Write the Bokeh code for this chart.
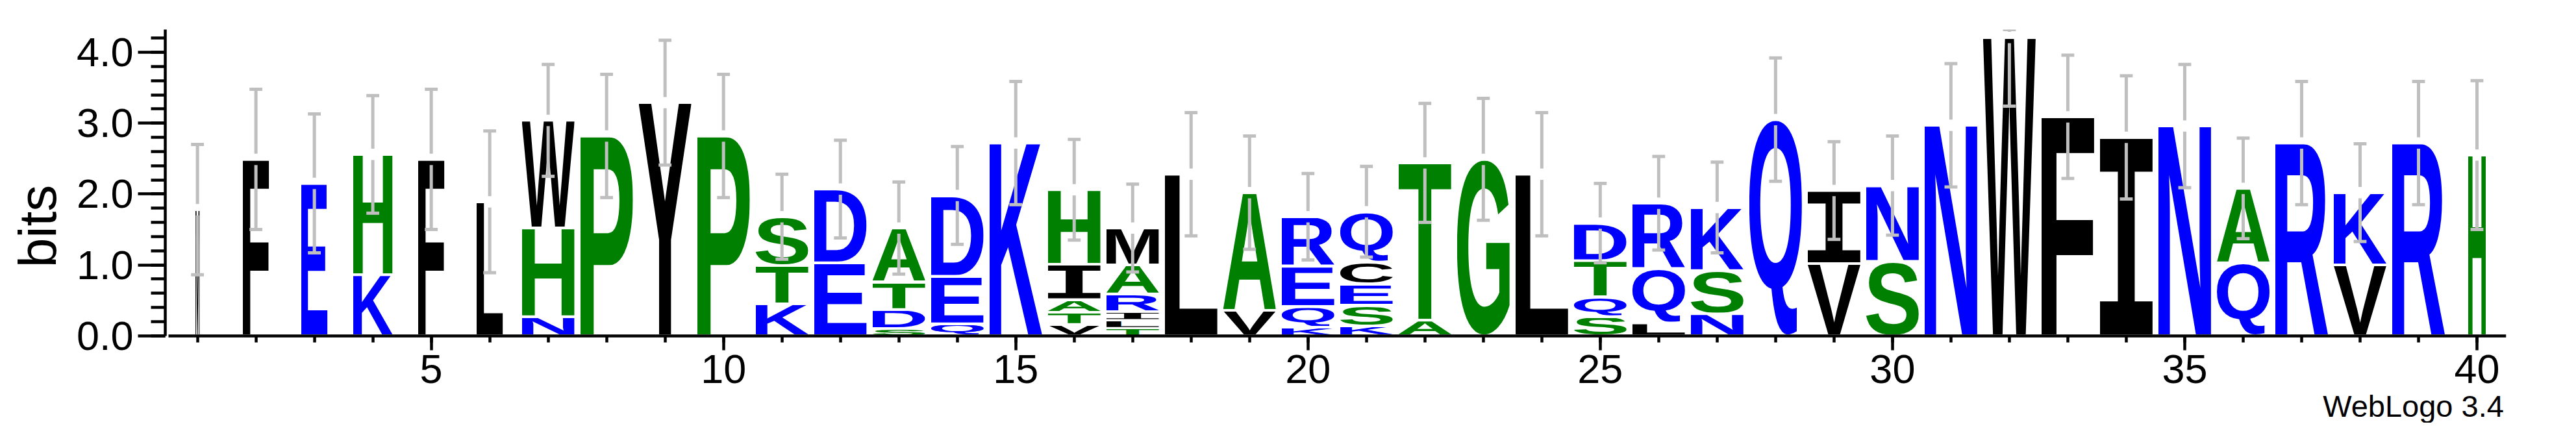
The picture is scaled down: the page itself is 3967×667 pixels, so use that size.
import base64
import glob
import os
import struct
import subprocess

from bokeh.plotting import figure
from bokeh.models import ColumnDataSource, FixedTicker, NumeralTickFormatter, Label, Range1d
from bokeh.embed import file_html
from bokeh.resources import INLINE

# ---------------- data ----------------
positions = list(range(1, 41))
# fraction of non-gap symbols in each column (scales the stack width)
width_frac = [1/12, 6/12, 6/12, 9/12, 6/12, 6/12] + [1.0] * 33 + [4/12]
# letters of each stack, bottom -> top
stack_letters = ["M", "F", "E", "KH", "F", "L", "NHW", "P", "Y", "P",
                 "KTS", "ED", "SDTA", "QED", "K", "VTAIH", "TLIRAM", "L", "VA", "KQER",
                 "KSECQ", "AT", "G", "L", "SQTD", "LQR", "NSK", "Q", "VI", "SN",
                 "N", "W", "F", "I", "N", "QA", "R", "VK", "R", "H"]
# heights (bits) of those letters, bottom -> top
stack_heights = [[1.78], [2.49], [2.15], [0.86, 1.70], [2.49], [1.89], [0.27, 1.25, 1.52], [2.82], [3.29], [2.82],
                 [0.45, 0.54, 0.69], [1.03, 1.04], [0.10, 0.27, 0.39, 0.76], [0.17, 0.67, 1.14], [2.72],
                 [0.16, 0.17, 0.18, 0.50, 1.05], [0.11, 0.11, 0.12, 0.25, 0.41, 0.52], [2.28], [0.36, 1.66],
                 [0.12, 0.29, 0.57, 0.70],
                 [0.14, 0.29, 0.30, 0.31, 0.71], [0.22, 2.22], [2.49], [2.28], [0.27, 0.28, 0.51, 0.53],
                 [0.18, 0.77, 0.92], [0.31, 0.61, 0.89], [3.05], [1.02, 1.03], [1.05, 1.07],
                 [2.97], [4.21], [3.09], [2.80], [2.96], [1.03, 1.05], [2.72], [1.00, 1.02], [2.72], [2.55]]
# half length of the error bar of each stack (bits)
error_half = [0.92, 0.99, 0.98, 0.83, 0.99, 1.00, 0.79, 0.87, 0.88, 0.87,
              0.60, 0.69, 0.65, 0.69, 0.87, 0.71, 0.62, 0.87, 0.80, 0.61,
              0.64, 0.84, 0.86, 0.87, 0.56, 0.66, 0.64, 0.87, 0.69, 0.70,
              0.87, 0.97, 0.87, 0.87, 0.87, 0.71, 0.87, 0.69, 0.87, 1.05]
x_major_ticks = [5, 10, 15, 20, 25, 30, 35, 40]
y_major_ticks = [0, 1, 2, 3, 4]
y_minor_ticks = [round(0.2 * k, 1) for k in range(22)]
y_max = 4.3219  # log2(20)
credit_text = "WebLogo 3.4"

# WebLogo "hydrophobicity" colour scheme
color_groups = {"RKDENQ": "#0000ff", "SGHTAP": "#008000", "YVMCLFIW": "#000000"}

assert len(stack_letters) == len(stack_heights) == len(error_half) == len(width_frac) == 40

# ---------------- glyph bounding boxes from the installed fonts ----------------
AFM_BOLD = {  # Helvetica-Bold style fallback boxes (1/1000 em)
    "A": (20, 0, 702, 718), "C": (44, -19, 684, 737), "D": (76, 0, 685, 718), "E": (76, 0, 621, 718),
    "F": (76, 0, 587, 718), "G": (44, -19, 713, 737), "H": (71, 0, 651, 718), "I": (64, 0, 214, 718),
    "K": (87, 0, 722, 718), "L": (76, 0, 583, 718), "M": (69, 0, 765, 718), "N": (69, 0, 654, 718),
    "P": (76, 0, 627, 718), "Q": (44, -52, 748, 737), "R": (76, 0, 677, 718), "S": (39, -19, 629, 737),
    "T": (14, 0, 598, 718), "V": (24, 0, 653, 718), "W": (16, 0, 929, 718), "Y": (15, 0, 653, 718),
}


def find_font(fname, pattern):
    roots = ["/usr/share/fonts", "/usr/local/share/fonts",
             os.path.expanduser("~/.fonts"), os.path.expanduser("~/.local/share/fonts")]
    for r in roots:
        hits = glob.glob(os.path.join(r, "**", fname), recursive=True)
        if hits:
            return hits[0]
    try:
        out = subprocess.run(["fc-match", "-f", "%{file}", pattern], capture_output=True, text=True).stdout
        if out and os.path.exists(out):
            return out
    except Exception:
        pass
    return None


def glyph_boxes(path, chars):
    data = open(path, "rb").read()
    ntab = struct.unpack(">H", data[4:6])[0]
    tab = {}
    for i in range(ntab):
        tag, _cs, off, _ln = struct.unpack(">4sIII", data[12 + 16 * i: 28 + 16 * i])
        tab[tag.decode("latin-1")] = off
    head = tab["head"]
    upem = struct.unpack(">H", data[head + 18: head + 20])[0]
    locfmt = struct.unpack(">h", data[head + 50: head + 52])[0]
    cmap = tab["cmap"]
    nsub = struct.unpack(">H", data[cmap + 2: cmap + 4])[0]
    sub = None
    for i in range(nsub):
        pid, eid, off = struct.unpack(">HHI", data[cmap + 4 + 8 * i: cmap + 12 + 8 * i])
        fmt = struct.unpack(">H", data[cmap + off: cmap + off + 2])[0]
        if fmt == 4:
            sub = cmap + off
            if pid == 3 and eid == 1:
                break
    segx2 = struct.unpack(">H", data[sub + 6: sub + 8])[0]
    n = segx2 // 2
    ends = struct.unpack(">%dH" % n, data[sub + 14: sub + 14 + segx2])
    starts = struct.unpack(">%dH" % n, data[sub + 16 + segx2: sub + 16 + 2 * segx2])
    deltas = struct.unpack(">%dh" % n, data[sub + 16 + 2 * segx2: sub + 16 + 3 * segx2])
    rbase = sub + 16 + 3 * segx2
    roffs = struct.unpack(">%dH" % n, data[rbase: rbase + segx2])

    def gid(ch):
        code = ord(ch)
        for i in range(n):
            if ends[i] >= code:
                if starts[i] > code:
                    return 0
                if roffs[i] == 0:
                    return (code + deltas[i]) & 0xFFFF
                addr = rbase + 2 * i + roffs[i] + 2 * (code - starts[i])
                g = struct.unpack(">H", data[addr: addr + 2])[0]
                return (g + deltas[i]) & 0xFFFF if g else 0
        return 0

    loca, glyf = tab["loca"], tab["glyf"]

    def loc(g):
        if locfmt == 0:
            return struct.unpack(">H", data[loca + 2 * g: loca + 2 * g + 2])[0] * 2
        return struct.unpack(">I", data[loca + 4 * g: loca + 4 * g + 4])[0]

    res = {}
    for ch in chars:
        go = glyf + loc(gid(ch))
        _nc, x0, y0, x1, y1 = struct.unpack(">hhhhh", data[go: go + 10])
        res[ch] = (x0 / upem, y0 / upem, x1 / upem, y1 / upem)
    return res


all_chars = sorted(set("".join(stack_letters)))
boxes = {c: tuple(v / 1000 for v in AFM_BOLD[c]) for c in all_chars}
fam = {c: "'Liberation Sans', Arial, sans-serif" for c in all_chars}
try:
    fp = find_font("LiberationSans-Bold.ttf", "Liberation Sans:bold")
    if fp:
        boxes.update(glyph_boxes(fp, all_chars))
except Exception:
    pass
try:
    fm = find_font("LiberationMono-Bold.ttf", "Liberation Mono:bold")
    if fm:
        boxes["I"] = glyph_boxes(fm, ["I"])["I"]
        fam["I"] = "'Liberation Mono', monospace"
except Exception:
    pass


def letter_color(ch):
    for grp, col in color_groups.items():
        if ch in grp:
            return col
    return "#000000"


def glyph_url(ch, color):
    x0, y0, x1, y1 = boxes[ch]
    s = 1000.0
    vb = "%.2f %.2f %.2f %.2f" % (x0 * s, -y1 * s, (x1 - x0) * s, (y1 - y0) * s)
    svg = ('<svg xmlns="http://www.w3.org/2000/svg" width="400" height="800" viewBox="%s" '
           'preserveAspectRatio="none"><text x="0" y="0" font-family="%s" font-weight="bold" '
           'font-size="%d" fill="%s">%s</text></svg>') % (vb, fam[ch], int(s), color, ch)
    return "data:image/svg+xml;base64," + base64.b64encode(svg.encode("utf-8")).decode("ascii")


# ---------------- build sources ----------------
full_w = 0.9
lx, ly, lw, lh, lurl = [], [], [], [], []
tops = []
for pos, letters, heights, wf in zip(positions, stack_letters, stack_heights, width_frac):
    base = 0.0
    w = full_w * wf
    for ch, h in zip(letters, heights):
        pad = min(0.018, 0.12 * h)
        lx.append(pos - w / 2)
        ly.append(base + pad)
        lw.append(w)
        lh.append(h - 2 * pad)
        lurl.append(glyph_url(ch, letter_color(ch)))
        base += h
    tops.append(base)

letters_src = ColumnDataSource(dict(url=lurl, x=lx, y=ly, w=lw, h=lh))

gap = 0.08
cap_half = 0.11
bx, by0, by1 = [], [], []
cx0, cx1, cy = [], [], []
for pos, top, err in zip(positions, tops, error_half):
    hi = min(top + err, y_max)
    lo = max(top - err, 0.0)
    if hi > top + gap:
        bx.append(pos); by0.append(top + gap); by1.append(hi)
    if lo < top - gap:
        bx.append(pos); by0.append(lo); by1.append(top - gap)
    for yy in (hi, lo):
        cx0.append(pos - cap_half); cx1.append(pos + cap_half); cy.append(yy)

bar_src = ColumnDataSource(dict(x=bx, y0=by0, y1=by1))
cap_src = ColumnDataSource(dict(x0=cx0, x1=cx1, y=cy))

# ---------------- figure ----------------
# the frame runs down to the page bottom; the x axis is pinned at y = 0
p = figure(width=3951, height=651, x_range=Range1d(0.449, 40.5), y_range=Range1d(-1.2308, y_max),
           output_backend="svg", toolbar_location=None,
           min_border_left=254, min_border_right=92, min_border_top=45, min_border_bottom=0)
p.outline_line_color = None
p.grid.visible = False
p.background_fill_color = "white"
p.border_fill_color = "white"

p.image_url(url="url", x="x", y="y", w="w", h="h", anchor="bottom_left", source=letters_src)

err_col = "#bfbfbf"
p.segment(x0="x", y0="y0", x1="x", y1="y1", source=bar_src, line_color=err_col, line_width=5, line_cap="butt")
p.segment(x0="x0", y0="y", x1="x1", y1="y", source=cap_src, line_color=err_col, line_width=5, line_cap="butt")

font = "Liberation Sans"
xa = p.xaxis[0]
xa.fixed_location = 0
xa.ticker = FixedTicker(ticks=x_major_ticks, minor_ticks=positions)
xa.bounds = (0.5, 40.5)
xa.axis_line_width = 4.5
xa.major_tick_line_width = 4.5
xa.minor_tick_line_width = 4.5
xa.major_tick_in = 0
xa.major_tick_out = 22
xa.minor_tick_in = 0
xa.minor_tick_out = 10
xa.major_label_text_font = font
xa.major_label_text_font_size = "63px"
xa.major_label_text_color = "black"
xa.major_label_standoff = 8

ya = p.yaxis[0]
ya.ticker = FixedTicker(ticks=y_major_ticks, minor_ticks=y_minor_ticks)
ya.formatter = NumeralTickFormatter(format="0.0")
ya.bounds = (0, y_max)
ya.axis_line_width = 4.5
ya.major_tick_line_width = 4.5
ya.minor_tick_line_width = 4.5
ya.major_tick_in = 0
ya.major_tick_out = 42
ya.minor_tick_in = 0
ya.minor_tick_out = 22
ya.major_label_text_font = font
ya.major_label_text_font_size = "63px"
ya.major_label_text_color = "black"
ya.major_label_standoff = 7
ya.axis_label = "bits"
ya.axis_label_text_font = font
ya.axis_label_text_font_size = "82px"
ya.axis_label_text_font_style = "normal"
ya.axis_label_text_color = "black"
ya.axis_label_standoff = 12

p.add_layout(Label(x=40.46, y=-0.99, text=credit_text, text_align="right", text_baseline="alphabetic",
                   text_font=font, text_font_size="47px", text_color="black"))

open("out.html", "w").write(file_html(p, INLINE))
